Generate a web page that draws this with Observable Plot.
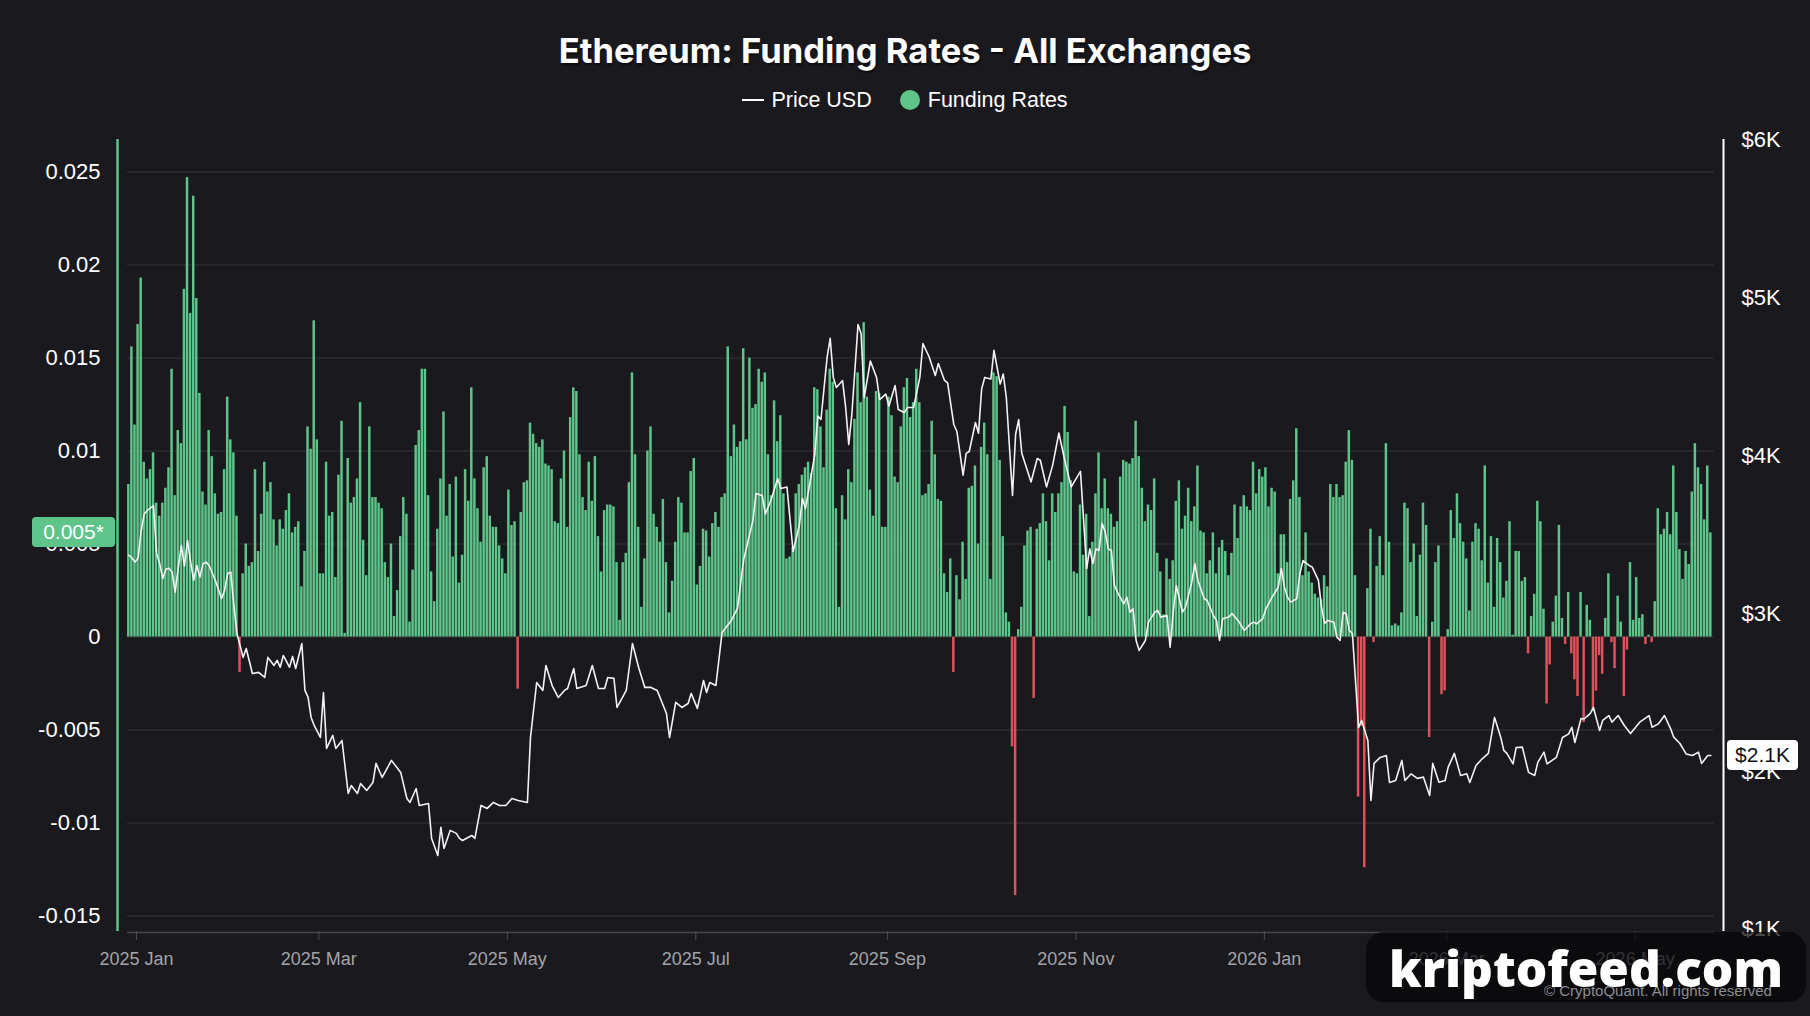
<!DOCTYPE html>
<html>
<head>
<meta charset="utf-8">
<script src="https://cdn.jsdelivr.net/npm/d3@7"></script>
<script src="https://cdn.jsdelivr.net/npm/@observablehq/plot@0.6"></script>
<style>
  html, body { margin: 0; padding: 0; background: #1a1a1e; }
  body { width: 1810px; height: 1016px; position: relative; overflow: hidden; font-family: "Liberation Sans", Arial, sans-serif; }
  #title { position: absolute; left: 0; width: 1810px; top: 30px; height: 42px; line-height: 42px; text-align: center; }
  #title span { color: #fff; font-family: Inter, "Liberation Sans", sans-serif; font-weight: 700; font-size: 32px; white-space: nowrap; text-shadow: 1px 2px 2px rgba(0,0,0,0.6); }
  #legend { position: absolute; left: 0; width: 1810px; top: 88px; height: 24px; display: flex; justify-content: center; align-items: center; color: #fff; font-size: 21.5px; }
  #legend .ln { display: inline-block; width: 22px; height: 2px; background: #fff; margin-right: 7px; }
  #legend .dot { display: inline-block; width: 20px; height: 20px; border-radius: 50%; background: #5ec48a; margin-left: 28px; margin-right: 8px; }
  #chart { position: absolute; left: 0; top: 120px; }
  .curlabel { position: absolute; height: 30px; line-height: 30px; border-radius: 4px; text-align: center; font-size: 21px; }
  #wm { position: absolute; left: 1366px; top: 932px; width: 440px; height: 70px; background: rgba(6,6,8,0.72); border-radius: 18px; }
  #cq { position: absolute; left: 1544px; top: 982px; color: #8d8d94; font-size: 15px; white-space: nowrap; }
  #kf { position: absolute; left: 1389px; top: 936px; color: #fff; font-family: "Open Sans", "Liberation Sans", sans-serif; font-weight: 800; font-size: 52px; line-height: 64px; white-space: nowrap; }
</style>
</head>
<body>
<div id="title"><span id="titletext">Ethereum: Funding Rates - All Exchanges</span></div>
<div id="legend"><span class="ln"></span><span id="lg1">Price USD</span><span class="dot"></span><span id="lg2">Funding Rates</span></div>
<div id="chart"></div>
<script>
// ---------- DATA ----------
// Daily funding rates, first bar = 2024-12-29, one value per day
const firstDay = "2024-12-29";
const fundingRates = [
0.0082,0.0156,0.0114,0.0168,0.0193,0.0094,0.0085,0.0090,0.0099,0.0072,
0.0065,0.0072,0.0080,0.0091,0.0144,0.0076,0.0111,0.0104,0.0187,0.0247,
0.0174,0.0237,0.0182,0.0131,0.0078,0.0071,0.0111,0.0097,0.0077,0.0066,
0.0067,0.0090,0.0129,0.0106,0.0099,0.0065,-0.0019,
0.0034,0.0050,0.0038,0.0040,0.0090,0.0046,0.0066,0.0094,0.0078,0.0083,
0.0063,0.0049,0.0063,0.0058,0.0068,0.0077,0.0056,0.0059,0.0062,0.0027,
0.0046,0.0113,0.0101,0.0170,0.0106,0.0034,0.0034,0.0094,0.0065,0.0067,
0.0032,0.0087,0.0116,0.0002,0.0096,0.0072,0.0075,0.0085,0.0126,0.0052,
0.0033,0.0113,0.0075,0.0075,0.0072,0.0069,0.0040,0.0032,0.0050,0.0011,
0.0025,0.0054,0.0075,0.0066,0.0008,0.0036,0.0103,0.0111,0.0144,0.0144,
0.0076,0.0035,0.0019,0.0058,
0.0085,0.0121,0.0065,0.0082,0.0043,0.0086,0.0029,0.0044,0.0090,0.0073,
0.0134,0.0085,0.0069,0.0051,0.0091,0.0097,0.0065,0.0059,0.0059,0.0049,
0.0042,0.0034,0.0079,0.0060,0.0062,-0.0028,
0.0067,0.0083,0.0084,0.0115,0.0109,0.0104,0.0102,0.0106,0.0093,0.0092,
0.0090,0.0062,0.0061,0.0085,0.0100,0.0059,0.0118,0.0134,0.0132,0.0098,
0.0075,0.0068,0.0094,0.0073,0.0097,0.0054,0.0035,0.0068,0.0071,0.0071,
0.0070,0.0040,0.0009,0.0040,0.0045,0.0083,0.0142,0.0098,0.0059,0.0016,
0.0042,0.0100,0.0113,0.0066,0.0059,0.0051,0.0074,0.0040,0.0013,0.0030,
0.0051,0.0075,0.0072,0.0056,0.0056,0.0089,0.0096,0.0028,0.0038,0.0058,
0.0057,0.0043,0.0061,0.0067,0.0059,0.0075,0.0077,0.0156,0.0097,0.0114,
0.0102,0.0105,0.0155,0.0106,0.0150,0.0123,0.0125,0.0144,
0.0137,0.0142,0.0098,0.0076,0.0127,0.0105,0.0119,0.0077,0.0042,0.0043,
0.0048,0.0077,0.0082,0.0087,0.0091,0.0094,0.0088,0.0134,0.0133,0.0113,
0.0091,0.0122,0.0144,0.0137,0.0069,0.0016,0.0076,0.0063,0.0090,0.0083,
0.0117,0.0142,0.0126,0.0169,0.0129,0.0079,0.0065,0.0132,0.0131,0.0059,
0.0059,0.0129,0.0119,0.0086,0.0083,0.0113,0.0134,0.0139,0.0118,0.0126,
0.0144,0.0126,0.0076,0.0077,0.0082,0.0116,0.0098,0.0074,0.0073,0.0034,
0.0024,0.0042,-0.0019,0.0033,0.0020,0.0051,0.0031,0.0080,0.0081,0.0092,
0.0050,0.0102,0.0115,0.0098,0.0031,0.0142,0.0140,0.0095,0.0054,0.0013,
0.0008,-0.0059,-0.0139,0.0004,0.0016,0.0049,0.0057,0.0059,-0.0033,0.0058,
0.0061,0.0077,0.0062,0.0041,0.0077,0.0067,0.0077,0.0083,0.0124,0.0110,
0.0084,0.0035,0.0034,0.0071,
0.0044,0.0066,0.0011,0.0051,0.0077,0.0099,0.0069,0.0085,0.0069,0.0066,
0.0059,0.0062,0.0086,0.0095,0.0094,0.0093,0.0096,0.0116,0.0097,0.0080,
0.0062,0.0071,0.0068,0.0085,0.0045,0.0035,0.0012,0.0042,0.0031,0.0041,
0.0073,0.0084,0.0058,0.0065,0.0080,0.0062,0.0070,0.0092,0.0057,0.0056,
0.0034,0.0041,0.0056,0.0034,0.0048,0.0052,0.0046,0.0033,0.0045,0.0071,
0.0053,0.0070,0.0076,0.0070,0.0068,0.0094,0.0077,0.0090,0.0086,0.0091,
0.0070,0.0080,0.0078,0.0034,0.0055,0.0055,0.0040,0.0074,0.0084,0.0112,
0.0075,0.0033,0.0056,0.0035,0.0029,0.0023,0.0021,0.0020,0.0033,0.0027,
0.0082,0.0075,0.0082,0.0075,0.0076,0.0094,0.0111,0.0095,0.0033,-0.0086,
-0.0048,-0.0124,0.0026,0.0058,-0.0003,0.0038,0.0054,0.0033,0.0104,0.0051,
0.0006,0.0007,0.0006,
0.0013,0.0072,0.0069,0.0040,0.0050,0.0011,0.0044,0.0072,0.0060,-0.0054,
0.0008,0.0040,0.0049,-0.0031,-0.0029,0.0004,0.0068,0.0053,0.0077,0.0061,
0.0051,0.0042,0.0014,0.0051,0.0061,0.0058,0.0041,0.0092,0.0029,0.0054,
0.0016,0.0053,0.0040,0.0021,0.0030,0.0062,0.0001,0.0046,0.0046,0.0030,
0.0032,-0.0009,0.0011,0.0023,0.0073,0.0062,0.0015,-0.0036,-0.0015,0.0008,
0.0022,0.0060,0.0010,-0.0004,0.0024,-0.0009,-0.0023,-0.0032,0.0024,-0.0046,
0.0017,0.0009,-0.0040,-0.0029,-0.0010,-0.0020,0.0010,0.0034,-0.0003,-0.0017,
0.0022,0.0008,-0.0032,-0.0007,0.0040,0.0009,0.0032,0.0010,0.0012,-0.0004,
0.0001,-0.0003,0.0019,0.0069,0.0055,0.0058,0.0067,0.0055,0.0092,0.0067,
0.0047,0.0031,0.0046,0.0039,0.0078,0.0104,0.0091,0.0082,0.0063,0.0092,
0.0056
];

// Price USD readings: day number counted from firstDay, and price
const priceDay = [
0,1,2,3,4,5,6,8,9,10,11,12,13,14,15,16,17,18,19,20,21,22,23,24,25,26,28,30,31,32,33,34,
35,37,38,40,42,44,45,47,48,49,50,52,53,54,56,57,58,59,60,62,63,64,66,67,69,71,72,74,75,77,79,80,82,85,88,90,91,93,94,97,98,
100,101,102,104,106,107,108,111,112,114,116,118,120,122,124,126,129,130,132,134,135,137,139,141,142,144,145,148,150,152,154,155,157,158,
161,163,165,167,169,171,174,175,177,179,181,182,184,186,187,188,190,192,195,197,199,
202,203,205,206,208,210,211,213,214,215,217,218,219,222,223,224,226,227,228,229,231,232,233,234,236,237,238,240,242,243,245,246,248,249,251,252,254,256,257,259,261,262,264,265,267,268,270,271,272,274,275,276,277,279,280,282,283,284,286,287,288,289,292,294,295,297,299,
301,303,305,308,310,311,312,313,314,315,316,317,318,319,320,322,323,324,325,326,327,329,330,332,333,334,336,337,338,339,341,342,344,345,346,348,349,351,352,353,354,356,357,359,361,363,364,365,367,368,370,372,373,374,375,376,378,379,380,382,383,385,386,387,388,390,391,392,393,394,395,396,397,398,399,
401,402,403,405,407,408,410,412,413,415,417,419,421,422,424,426,427,429,431,433,434,436,438,440,442,444,445,446,448,449,451,453,455,456,458,459,462,464,466,467,468,470,471,473,474,476,477,479,480,482,484,486,489,492,493,495,497,499,
500,502,504,506,508,509,511,512
];
const priceUSD = [
3370,3352,3325,3350,3525,3631,3652,3683,3380,3316,3221,3280,3286,3263,3135,3290,3430,3300,3462,3325,3209,3304,3230,3314,3325,3304,3209,3095,3146,3253,3262,3051,
2873,2722,2778,2620,2627,2595,2722,2671,2703,2660,2734,2660,2728,2652,2810,2513,2470,2342,2291,2215,2500,2146,2228,2146,2196,1861,1911,1861,1924,1880,1930,2051,1962,2070,1994,1829,1804,1892,1785,1797,1576,
1468,1646,1513,1627,1608,1576,1563,1595,1576,1785,1766,1804,1785,1785,1829,1816,1804,2215,2563,2513,2671,2544,2468,2513,2525,2652,2525,2544,2671,2525,2525,2595,2589,2405,
2513,2810,2658,2532,2532,2513,2367,2215,2437,2405,2430,2494,2399,2576,2500,2563,2544,2880,2956,3032,3342,
3589,3760,3747,3629,3728,3854,3791,3800,3595,3392,3557,3728,3665,4006,4249,4228,4623,4741,4494,4430,4474,4304,4070,4259,4829,4772,4367,4598,4494,4354,4388,4313,4443,4291,4272,4304,4304,4494,4709,4625,4506,4582,4475,4460,4196,4152,3875,4013,4025,4209,4141,4420,4494,4484,4665,4452,4516,4367,3747,4133,4228,4014,3832,3981,3970,3801,3939,
4142,3962,3801,3899,3285,3409,3316,3409,3399,3570,3515,3409,3399,3177,3134,3061,3103,3008,3029,2829,2766,2829,2945,3008,3019,2977,2987,2786,3008,3177,3008,3040,3198,3316,3209,3095,3082,2987,2956,2829,2966,2977,3000,2956,2892,2934,2945,2934,2968,3029,3103,3166,3285,3166,3103,3072,3093,3251,3335,3304,3293,3209,3040,2937,2956,2945,2850,2829,3008,2998,2892,2873,2576,2278,2323,
2196,1816,2051,2089,2101,1930,1943,2070,1943,1985,1956,1964,1848,2051,1932,1943,2027,2114,1975,1985,1930,2038,2080,2114,2342,2217,2133,2114,2048,2152,2154,1994,1975,2057,2122,2048,2089,2215,2238,2280,2183,2335,2333,2367,2405,2259,2323,2354,2312,2354,2291,2240,2312,2354,2280,2301,2354,2270,
2217,2177,2111,2101,2122,2051,2101,2101
];

const leftTicks = [-0.015, -0.01, -0.005, 0, 0.005, 0.01, 0.015, 0.02, 0.025];
const leftTickLabels = ["-0.015", "-0.01", "-0.005", "0", "0.005", "0.01", "0.015", "0.02", "0.025"];
const rightTicks = [1000, 2000, 3000, 4000, 5000, 6000];
const rightTickLabels = ["$1K", "$2K", "$3K", "$4K", "$5K", "$6K"];
const monthTicks = ["2025-01-01", "2025-03-01", "2025-05-01", "2025-07-01", "2025-09-01", "2025-11-01", "2026-01-01", "2026-03-01", "2026-05-01"];
const monthTickLabels = ["2025 Jan", "2025 Mar", "2025 May", "2025 Jul", "2025 Sep", "2025 Nov", "2026 Jan", "2026 Mar", "2026 May"];
const fundingLabel = "0.005*";
const priceLabel = "$2.1K";

// ---------- SCALES ----------
const DAY = 864e5;
const t0 = Date.parse(firstDay + "T00:00:00Z");
const dayToDate = d => new Date(t0 + d * DAY);
const yLo = -0.01583, yHi = 0.02675;   // left axis domain
const pLo = 987, pHi = 6000;           // right axis domain (same pixel span)
const priceToY = p => yLo + (p - pLo) / (pHi - pLo) * (yHi - yLo);

const GREEN = "#5ec48a", RED = "#e0525b";
const frData = fundingRates.map((v, i) => ({i, v}));
const priceData = priceDay.map((d, k) => ({d, p: priceUSD[k]}));
const xDom = [dayToDate(-3.16), dayToDate(516.6)];
const gridX1 = dayToDate(0.05), gridX2 = dayToDate(513.6);
const rightTickY = rightTicks.map(priceToY);
const monthDates = monthTicks.map(s => new Date(s + "T00:00:00Z"));
const monthFmt = d => monthTickLabels[monthDates.findIndex(m => +m === +d)];

const chart = Plot.plot({
  width: 1810,
  height: 896,
  marginTop: 19,
  marginBottom: 85,
  marginLeft: 117,
  marginRight: 87,
  style: {background: "transparent", color: "#ffffff", fontFamily: "'Liberation Sans', Arial, sans-serif", overflow: "visible"},
  x: {type: "utc", domain: xDom},
  y: {domain: [yLo, yHi]},
  marks: [
    Plot.ruleY(leftTicks, {x1: gridX1, x2: gridX2, stroke: "#2b2b31", strokeWidth: 1.5}),
    Plot.rectY(frData.filter(d => d.v >= 0), {x1: d => dayToDate(d.i + 0.1), x2: d => dayToDate(d.i + 0.9), y1: 0, y2: "v", fill: GREEN}),
    Plot.rectY(frData.filter(d => d.v < 0), {x1: d => dayToDate(d.i + 0.1), x2: d => dayToDate(d.i + 0.9), y1: 0, y2: "v", fill: RED}),
    Plot.line(priceData, {x: d => dayToDate(d.d + 0.5), y: d => priceToY(d.p), stroke: "#f2f2f2", strokeWidth: 1.6}),
    Plot.ruleY([yLo], {x1: gridX1, x2: gridX2, stroke: "#48484f", strokeWidth: 1.5, dy: 1}),
    Plot.ruleX([xDom[0]], {stroke: GREEN, strokeWidth: 2.5}),
    Plot.ruleX([xDom[1]], {stroke: "#ffffff", strokeWidth: 2}),
    Plot.axisY(leftTicks, {anchor: "left", tickSize: 0, tickPadding: 17, fontSize: 22, fill: "#ffffff", label: null,
      tickFormat: d => leftTickLabels[leftTicks.indexOf(d)]}),
    Plot.axisY(rightTickY, {anchor: "right", tickSize: 0, tickPadding: 18, fontSize: 22, fill: "#ffffff", label: null,
      tickFormat: d => rightTickLabels[rightTickY.indexOf(d)]}),
    Plot.axisX(monthDates, {anchor: "bottom", tickSize: 9, stroke: "#4d4d54", fill: "none", label: null, tickFormat: monthFmt}),
    Plot.axisX(monthDates, {anchor: "bottom", tickSize: 0, tickPadding: 21, fontSize: 18, fill: "#a3a3aa", label: null, tickFormat: monthFmt})
  ]
});
document.getElementById("chart").appendChild(chart);

// current-value labels placed through the plot's y scale
const ys = chart.scale("y");
const lastFR = fundingRates[fundingRates.length - 1];
const lastP = priceUSD[priceUSD.length - 1];
function addLabel(text, left, width, yPix, bg, fg) {
  const el = document.createElement("div");
  el.className = "curlabel";
  el.textContent = text;
  el.style.left = left + "px";
  el.style.width = width + "px";
  el.style.top = (120 + yPix - 15) + "px";
  el.style.background = bg;
  el.style.color = fg;
  document.body.appendChild(el);
}
addLabel(fundingLabel, 32, 83, ys.apply(lastFR), GREEN, "#ffffff");
addLabel(priceLabel, 1727, 71, ys.apply(priceToY(lastP)), "#ffffff", "#111111");

// watermark (semi-transparent, as in the reference)
const wm = document.createElement("div"); wm.id = "wm"; document.body.appendChild(wm);
const cq = document.createElement("div"); cq.id = "cq"; cq.textContent = "© CryptoQuant. All rights reserved"; document.body.appendChild(cq);
const kf = document.createElement("div"); kf.id = "kf"; kf.textContent = "kriptofeed.com"; document.body.appendChild(kf);

// fit text widths to the reference
function fit(el, target) {
  const w = el.getBoundingClientRect().width;
  const fs = parseFloat(getComputedStyle(el).fontSize);
  if (w > 0) el.style.fontSize = (fs * target / w).toFixed(2) + "px";
}
fit(document.getElementById("titletext"), 693);
fit(kf, 394);
</script>
</body>
</html>
